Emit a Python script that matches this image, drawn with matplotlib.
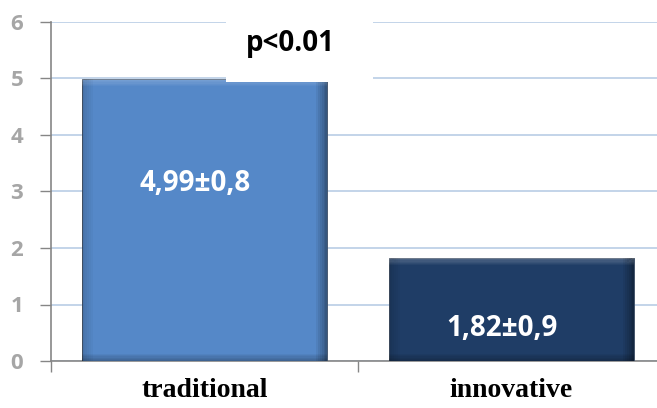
import matplotlib.pyplot as plt
from matplotlib.patches import Rectangle

categories = ["traditional", "innovative"]
values = [4.99, 1.82]
labels = ["4,99±0,8", "1,82±0,9"]
label_y = [3.15, 0.58]
bar_colors = ["#5588C8", "#1F3D66"]
yticks = [0, 1, 2, 3, 4, 5, 6]
p_text = "p<0.01"

fig = plt.figure(figsize=(6.57, 4.08), dpi=100)
ax = fig.add_axes([51 / 657, 1 - 361 / 408, 614 / 657, 339 / 408])

x = list(range(len(categories)))
bars = ax.bar(x, values, width=0.8, color=bar_colors, edgecolor="#3a4a60",
              linewidth=0.6, zorder=3)

# soft bevel on each bar, built from thin strips
n = 6
for bar in bars:
    bx, bw, bh = bar.get_x(), bar.get_width(), bar.get_height()
    sx, sy = 0.006, 0.02
    for i in range(n):
        a = 0.45 * (1 - i / n)
        # right edge (dark)
        ax.add_patch(Rectangle((bx + bw - sx * (i + 1), 0), sx, bh, color="black",
                               alpha=a * 0.8, lw=0, zorder=4))
        # left edge (slightly dark)
        ax.add_patch(Rectangle((bx + sx * i, 0), sx, bh, color="black",
                               alpha=a * 0.35, lw=0, zorder=4))
        # bottom edge (dark)
        ax.add_patch(Rectangle((bx, sy * i), bw, sy, color="black",
                               alpha=a * 0.6, lw=0, zorder=4))
        # top edge (light)
        ax.add_patch(Rectangle((bx, bh - sy * (i + 1)), bw, sy, color="white",
                               alpha=a * 0.5, lw=0, zorder=4))

for xi, txt, ly in zip(x, labels, label_y):
    ax.text(xi - 0.03, ly, txt, ha="center", va="center", color="white",
            fontsize=20, fontweight="bold", family="Open Sans", zorder=6)

# white box behind the p-value
ax.add_patch(Rectangle((0.07, 4.94), 0.48, 1.5, color="white", lw=0, zorder=5,
                       clip_on=False))
ax.text(0.28, 5.62, p_text, ha="center", va="center", color="black",
        fontsize=20, fontweight="bold", family="Open Sans", zorder=6)

ax.set_xlim(-0.5, 1.5)
ax.set_ylim(0, 6)
ax.set_yticks(yticks)
ax.yaxis.grid(True, color="#B9CDE5", linewidth=1.2, zorder=0)
ax.set_axisbelow(True)

ax.set_xticks(x)
ax.set_xticklabels(categories, fontsize=20, fontweight="bold", family="Liberation Serif")
ax.set_xticks([-0.5, 0.5, 1.5], minor=True)
ax.tick_params(axis="x", which="major", length=0, pad=12)
ax.tick_params(axis="x", which="minor", length=8, color="#868686", width=1)
ax.tick_params(axis="y", length=8, color="#868686", width=1, pad=12,
               labelcolor="#A6A6A6", labelsize=16)
for lab in ax.get_yticklabels():
    lab.set_fontweight("bold")
    lab.set_family("Open Sans")

for s in ["top", "right"]:
    ax.spines[s].set_visible(False)
ax.spines["left"].set_color("#868686")
ax.spines["bottom"].set_color("#868686")
ax.spines["left"].set_linewidth(1.2)
ax.spines["bottom"].set_linewidth(1.2)

fig.savefig("out.png", dpi=100)
